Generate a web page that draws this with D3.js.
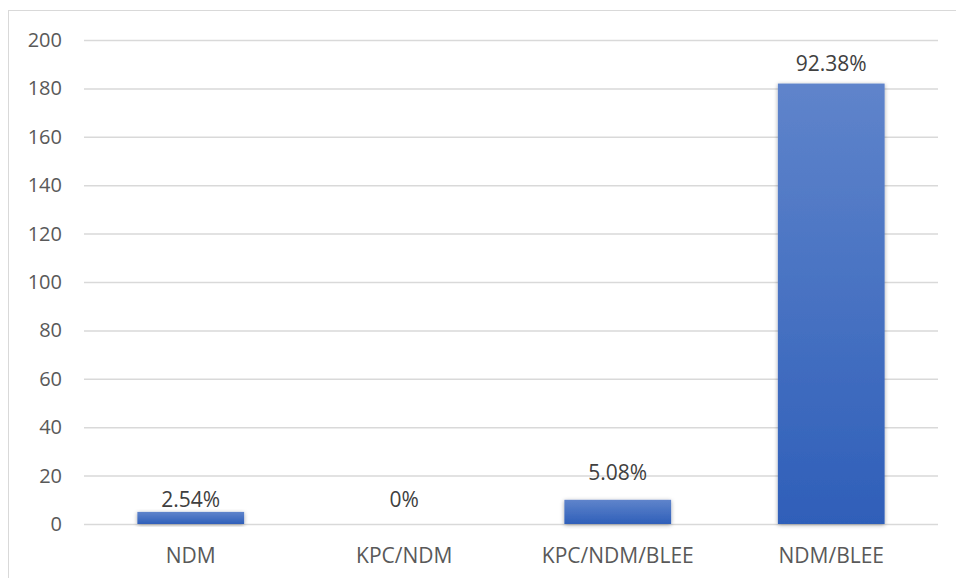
<!DOCTYPE html>
<html>
<head>
<meta charset="utf-8">
<script src="https://cdn.jsdelivr.net/npm/d3@7"></script>
<style>
  html, body { margin: 0; padding: 0; background: #fff; }
  svg { display: block; font-family: "Open Sans", "Liberation Sans", sans-serif; }
</style>
</head>
<body>
<svg id="chart" width="956" height="578"></svg>
<script>
// Carbapenemase profiles: isolate counts and their share of the total
const categories = ["NDM", "KPC/NDM", "KPC/NDM/BLEE", "NDM/BLEE"];
const counts = [5, 0, 10, 182];
const shareLabels = ["2.54%", "0%", "5.08%", "92.38%"];
const yTicks = [0, 20, 40, 60, 80, 100, 120, 140, 160, 180, 200];
// gap (px) between each bar top and the baseline of its label
const labelGap = [5, 17, 20, 13];

const svg = d3.select("#chart");
const W = 956, H = 578;
const margin = { left: 84, right: 18, top: 40, bottom: 54 };

// chart frame (top and left edges only visible in the window)
svg.append("rect")
  .attr("x", 8.5).attr("y", 10.5)
  .attr("width", W + 10).attr("height", H + 10)
  .attr("fill", "#fff").attr("stroke", "#d9d9d9").attr("stroke-width", 1);

const x = d3.scaleBand()
  .domain(categories)
  .range([margin.left, W - margin.right])
  .paddingInner(0.5).paddingOuter(0.25);

const y = d3.scaleLinear()
  .domain([0, 200])
  .range([H - margin.bottom, margin.top]);

// defs: vertical gradient per bar and a soft shadow
const defs = svg.append("defs");
const grad = defs.append("linearGradient")
  .attr("id", "barFill").attr("x1", 0).attr("y1", 0).attr("x2", 0).attr("y2", 1);
grad.append("stop").attr("offset", "0%").attr("stop-color", "#5f84cb");
grad.append("stop").attr("offset", "100%").attr("stop-color", "#2f5fb9");

const shadow = defs.append("filter").attr("id", "barShadow")
  .attr("x", "-20%").attr("y", "-20%").attr("width", "140%").attr("height", "140%");
shadow.append("feDropShadow")
  .attr("dx", 0).attr("dy", 1).attr("stdDeviation", 2.2)
  .attr("flood-color", "#000").attr("flood-opacity", 0.35);

// horizontal gridlines with value ticks
const yAxis = d3.axisLeft(y).tickValues(yTicks).tickSize(-(W - margin.right - margin.left)).tickPadding(22);
const gy = svg.append("g").attr("transform", `translate(${margin.left},0)`).call(yAxis);
gy.select(".domain").remove();
gy.selectAll(".tick line").attr("stroke", "#d9d9d9").attr("stroke-width", 1.5);
gy.selectAll(".tick text")
  .attr("fill", "#595959").attr("font-size", 20)
  .attr("font-family", "'Open Sans', sans-serif");

// category axis
const xAxis = d3.axisBottom(x).tickSize(0).tickPadding(0);
const gx = svg.append("g").attr("transform", `translate(0,${y(0)})`).call(xAxis);
gx.select(".domain").remove();
gx.selectAll(".tick text")
  .attr("y", 39).attr("dy", null)
  .attr("fill", "#595959").attr("font-size", 21)
  .attr("font-family", "'Open Sans', sans-serif");

// bars
const data = categories.map((c, i) => ({ cat: c, v: counts[i], label: shareLabels[i], gap: labelGap[i] }));
svg.append("g").selectAll("rect")
  .data(data.filter(d => d.v > 0))
  .join("rect")
  .attr("x", d => x(d.cat))
  .attr("y", d => y(d.v))
  .attr("width", x.bandwidth())
  .attr("height", d => y(0) - y(d.v))
  .attr("fill", "url(#barFill)")
  .attr("filter", "url(#barShadow)");

// value labels above bars
svg.append("g").selectAll("text")
  .data(data)
  .join("text")
  .attr("x", d => x(d.cat) + x.bandwidth() / 2)
  .attr("y", d => y(d.v) - d.gap)
  .attr("text-anchor", "middle")
  .attr("fill", "#404040")
  .attr("font-size", 21)
  .text(d => d.label);
</script>
</body>
</html>
